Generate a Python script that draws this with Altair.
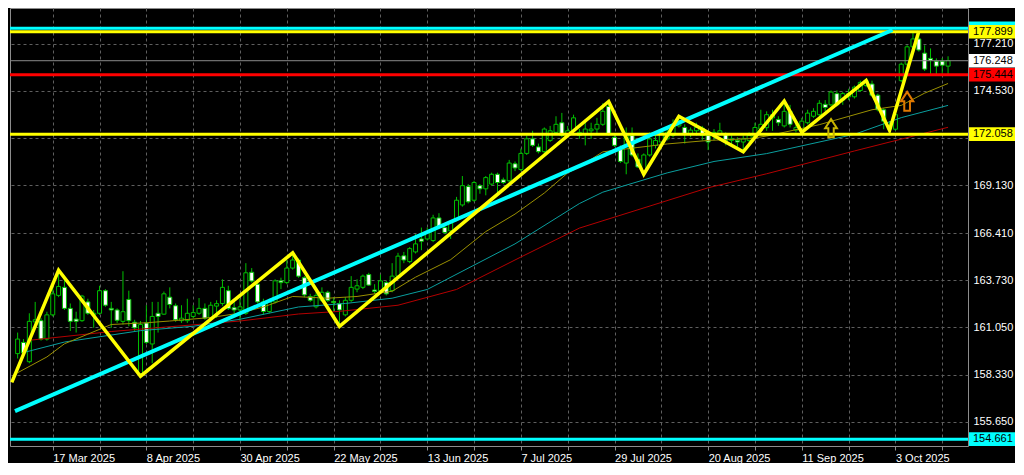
import altair as alt
import pandas as pd

# ---------------- data ----------------
OPEN = [159.54, 160.18, 159.08, 161.35, 161.42, 160.37, 161.75, 162.86, 163.32, 162.12,
        161.51, 161.42, 162.49, 161.75, 161.84, 163.13, 162.12, 162.03, 161.38, 162.63,
        161.33, 158.40, 161.29, 160.09, 161.84, 161.79, 162.76, 162.27, 161.42, 161.42,
        161.66, 161.84, 162.12, 161.57, 162.25, 162.40, 163.13, 162.16, 162.03, 161.84,
        164.18, 163.50, 162.49, 161.94, 162.49, 163.69, 163.59, 164.42, 164.88, 163.87,
        162.80, 162.21, 162.58, 163.04, 162.52, 162.40, 161.75, 162.58, 163.22, 163.32,
        164.05, 163.17, 163.13, 163.59, 163.13, 163.96, 165.12, 164.79, 165.34, 166.08,
        166.08, 165.99, 167.28, 166.73, 166.54, 167.19, 168.02, 169.07, 168.29, 169.12,
        168.94, 169.21, 169.77, 169.45, 169.40, 170.37, 170.04, 170.96, 171.79, 171.33,
        171.06, 171.70, 172.16, 172.71, 171.98, 172.25, 171.98, 172.07, 172.25, 172.35,
        172.62, 173.64, 171.88, 171.29, 170.41, 171.98, 170.63, 169.86, 170.87, 171.42,
        171.61, 171.79, 171.98, 172.53, 172.44, 172.10, 172.25, 172.40, 171.98, 171.98,
        172.10, 172.03, 171.70, 171.70, 171.61, 171.70, 171.88, 172.35, 172.43, 172.99,
        172.90, 172.53, 173.36, 172.29, 172.34, 172.71, 173.08, 173.17, 173.76, 173.73,
        174.37, 174.00, 174.19, 174.19, 174.55, 174.83, 174.92, 174.28, 173.45, 172.34,
        172.34, 175.11, 176.05, 177.04, 177.49, 176.68, 176.38, 176.22, 176.22, 175.94]
HIGH = [160.74, 160.37, 161.84, 162.49, 161.56, 161.93, 163.59, 164.30, 163.87, 162.40,
        161.93, 162.89, 162.67, 162.03, 163.41, 163.22, 162.49, 162.12, 164.24, 163.13,
        161.47, 161.40, 162.30, 162.49, 162.49, 163.08, 163.32, 162.40, 162.30, 162.67,
        162.30, 162.71, 162.40, 162.49, 162.58, 163.78, 163.41, 162.49, 162.67, 164.70,
        164.42, 163.78, 162.67, 162.67, 163.78, 163.87, 164.88, 165.29, 164.97, 163.96,
        162.95, 163.04, 163.32, 163.13, 162.76, 162.58, 162.76, 163.96, 163.78, 164.05,
        164.15, 163.50, 164.05, 163.69, 164.70, 165.29, 165.34, 165.62, 166.36, 166.73,
        166.73, 167.46, 167.55, 167.00, 167.09, 168.48, 169.67, 169.21, 169.40, 169.21,
        169.67, 169.86, 169.86, 169.58, 170.59, 170.50, 171.24, 171.98, 172.25, 171.52,
        172.44, 172.53, 173.08, 173.27, 172.53, 173.17, 172.35, 172.81, 172.71, 172.99,
        173.82, 173.95, 172.07, 171.42, 172.44, 172.44, 170.96, 170.96, 172.16, 171.98,
        172.35, 172.44, 172.90, 173.08, 172.62, 172.44, 172.71, 172.53, 172.07, 172.35,
        172.71, 172.16, 171.98, 171.88, 171.98, 172.16, 172.71, 173.45, 173.36, 173.45,
        173.08, 173.95, 173.73, 172.62, 172.99, 173.45, 173.54, 174.00, 174.00, 174.55,
        174.55, 174.46, 174.65, 174.83, 175.11, 175.14, 175.11, 174.37, 173.54, 172.80,
        173.26, 176.14, 177.13, 177.90, 177.93, 177.13, 176.95, 176.38, 176.40, 176.50]
LOW = [159.26, 159.36, 158.99, 161.01, 160.28, 160.28, 161.66, 162.76, 162.03, 160.83,
       160.74, 161.35, 161.75, 161.01, 161.75, 162.21, 161.01, 161.29, 161.20, 161.10,
       160.83, 158.16, 160.09, 158.99, 160.74, 161.75, 162.12, 161.35, 161.29, 161.29,
       161.56, 161.75, 161.47, 161.38, 161.57, 162.27, 162.03, 161.84, 161.38, 161.75,
       163.59, 162.40, 161.75, 161.84, 162.40, 163.22, 163.50, 164.33, 163.87, 162.76,
       162.49, 162.12, 162.49, 162.49, 161.94, 161.10, 161.66, 162.49, 163.04, 163.22,
       163.41, 162.95, 163.04, 162.86, 163.04, 163.87, 164.70, 164.70, 165.25, 165.44,
       165.99, 165.90, 166.64, 166.36, 166.08, 167.09, 167.92, 168.11, 168.20, 168.66,
       168.57, 169.12, 168.57, 169.21, 169.30, 169.95, 169.95, 170.87, 171.33, 170.96,
       170.87, 171.61, 172.07, 171.88, 171.88, 172.16, 171.79, 171.42, 171.79, 172.07,
       172.53, 171.98, 171.33, 170.41, 169.77, 170.78, 170.13, 169.77, 170.78, 171.24,
       171.42, 171.70, 171.88, 172.44, 171.52, 171.88, 171.98, 171.70, 171.15, 171.70,
       171.98, 171.42, 171.33, 171.33, 171.05, 171.61, 171.79, 172.25, 172.25, 172.25,
       172.53, 172.44, 172.44, 172.16, 172.16, 172.62, 172.99, 173.08, 173.36, 173.64,
       173.64, 173.73, 174.00, 174.09, 174.46, 174.74, 174.19, 173.36, 172.34, 172.25,
       172.25, 175.02, 175.96, 176.95, 176.77, 175.66, 175.38, 175.38, 175.38, 175.44]
CLOSE = [160.37, 159.58, 161.38, 161.47, 160.37, 161.75, 162.95, 163.37, 162.12, 161.38,
         161.38, 162.82, 161.84, 161.84, 163.13, 162.30, 162.03, 161.44, 161.93, 161.42,
         161.01, 161.20, 160.18, 161.66, 161.66, 162.95, 162.34, 161.47, 161.56, 161.84,
         161.88, 162.12, 161.56, 162.30, 162.39, 163.32, 162.12, 162.03, 162.21, 164.15,
         163.68, 162.49, 161.94, 162.49, 163.69, 163.59, 164.42, 164.88, 163.96, 162.89,
         162.58, 162.86, 163.04, 162.58, 162.45, 162.03, 162.58, 163.32, 163.41, 163.96,
         163.45, 163.08, 163.69, 162.95, 163.96, 165.10, 164.88, 165.53, 165.80, 165.95,
         166.45, 167.28, 166.73, 166.45, 167.00, 168.29, 169.12, 168.20, 169.30, 168.94,
         169.58, 169.77, 169.30, 169.30, 170.41, 170.13, 170.96, 171.79, 171.42, 171.06,
         172.35, 172.25, 172.62, 171.98, 172.25, 172.99, 172.16, 172.35, 172.35, 172.62,
         173.36, 172.07, 171.42, 170.50, 171.98, 170.87, 170.19, 170.87, 171.79, 171.70,
         172.16, 172.16, 172.62, 172.81, 172.07, 172.29, 172.44, 171.98, 171.61, 172.16,
         172.25, 171.70, 171.79, 171.61, 171.79, 171.98, 172.44, 172.62, 173.17, 173.17,
         172.71, 173.36, 172.62, 172.43, 172.80, 173.26, 173.36, 173.82, 173.58, 174.46,
         173.73, 174.37, 174.37, 174.74, 175.01, 175.11, 174.28, 173.45, 172.80, 172.53,
         173.17, 176.05, 177.04, 177.49, 176.86, 175.77, 176.27, 175.94, 175.99, 176.25]

# moving averages (bar index, price) read at intervals
MA_FAST_I = [0, 5, 8, 12, 16, 22, 26, 33, 38, 42, 47, 53, 58, 64, 68, 74, 80, 85, 90,
             94, 96, 100, 106, 111, 118, 125, 128, 137, 146, 151, 155, 159]
MA_FAST_P = [158.45, 159.35, 160.10, 160.65, 161.20, 161.30, 161.40, 161.60, 161.85, 162.20,
             162.80, 162.70, 162.80, 163.10, 163.90, 164.90, 166.50, 167.50, 168.70, 169.85,
             170.20, 171.05, 171.30, 171.50, 171.70, 171.80, 171.95, 172.60, 173.45, 173.70,
             174.40, 174.95]
MA_MID_I = [1, 8, 21, 30, 38, 48, 56, 64, 70, 85, 96, 100, 111, 119, 128, 143, 151, 159]
MA_MID_P = [159.60, 160.20, 160.85, 161.10, 161.50, 162.20, 162.40, 162.70, 163.20, 165.80,
            168.10, 168.75, 169.85, 170.50, 170.95, 172.05, 173.00, 173.70]
MA_SLOW_I = [2, 16, 38, 48, 55, 65, 75, 86, 96, 118, 128, 143, 159]
MA_SLOW_P = [160.30, 160.80, 161.40, 161.80, 161.95, 162.30, 163.20, 165.05, 166.70, 169.00,
             169.80, 171.10, 172.45]

# zigzag pivots and trend line
ZZ_I = [-1, 7, 21, 47, 55, 101, 107, 113, 124, 131, 134, 145, 149, 154]
ZZ_P = [157.90, 164.30, 158.25, 165.29, 161.10, 173.92, 169.77, 173.08, 171.05, 173.95,
        172.16, 175.12, 172.27, 177.93]
TREND_I = [-0.45, 149.5]
TREND_P = [156.26, 178.00]

# horizontal levels
LEVELS = [178.10, 177.899, 176.248, 175.444, 172.058, 154.661]

# arrows
ARROW_I = [139, 152]
ARROW_P = [172.40, 173.93]

# axes
TICK_INDEX = [6, 22, 38, 54, 70, 86, 102, 118, 134, 150]
TICK_LABELS = ["17 Mar 2025", "8 Apr 2025", "30 Apr 2025", "22 May 2025", "13 Jun 2025",
               "7 Jul 2025", "29 Jul 2025", "20 Aug 2025", "11 Sep 2025", "3 Oct 2025"]
GRID_INDEX = [6, 14, 22, 30, 38, 46, 54, 62, 70, 78, 86, 94, 102, 110, 118, 126, 134, 142, 150, 158]
PRICE_TICKS = [155.650, 158.330, 161.050, 163.730, 166.410, 169.130, 171.850, 174.530, 177.210]

# ---------------- styling / geometry ----------------
W, H = 958, 438
Y_MIN, Y_MAX = 154.27, 179.255
X_MIN, X_MAX = -0.45, 161.55
FONT = "Liberation Sans, Arial, sans-serif"
GREEN = "#00c000"
GRID = "#5f5f5f"
BOX_HALF = 6.8 * (Y_MAX - Y_MIN) / H

xs = alt.Scale(domain=[X_MIN, X_MAX], nice=False, zero=False)
ys = alt.Scale(domain=[Y_MIN, Y_MAX], nice=False, zero=False)

label_expr = "".join(f"datum.value == {i} ? '{t}' : " for i, t in zip(TICK_INDEX, TICK_LABELS)) + "''"
x_axis = alt.Axis(values=GRID_INDEX, labelExpr=label_expr, grid=True, gridColor=GRID,
                  gridDash=[3, 3], gridWidth=1, ticks=True, tickSize=4, tickColor="#8c8c8c",
                  labelAlign="left", labelColor="#ffffff", labelFont=FONT, labelFontSize=11,
                  labelPadding=2, labelOverlap=False, labelFlush=False, labelBound=False,
                  domain=False, title=None)
y_axis = alt.Axis(orient="right", values=PRICE_TICKS,
                  labelExpr="datum.value == 171.85 ? '' : format(datum.value, '.3f')",
                  grid=True, gridColor=GRID, gridDash=[3, 3], gridWidth=1, ticks=False,
                  tickSize=0, domain=False, labelColor="#ffffff", labelFont=FONT,
                  labelFontSize=11, labelPadding=5, labelAlign="left", labelBaseline="middle",
                  labelOverlap=False, labelFlush=False, title=None)


def X(field):
    return alt.X(f"{field}:Q", scale=xs, axis=x_axis)


def Y(field):
    return alt.Y(f"{field}:Q", scale=ys, axis=y_axis)


candles = pd.DataFrame({"i": list(range(len(OPEN))), "open": OPEN, "high": HIGH,
                        "low": LOW, "close": CLOSE})
base = alt.Chart(candles)
wicks = base.mark_rule(color=GREEN, strokeWidth=1).encode(x=X("i"), y=Y("low"), y2="high:Q")
bodies = base.mark_bar(size=4, stroke=GREEN, strokeWidth=1).encode(
    x=X("i"), y=Y("open"), y2="close:Q",
    fill=alt.condition("datum.close < datum.open", alt.value("#ffffff"), alt.value("#000000")))


def line(i_list, p_list, color, width):
    df = pd.DataFrame({"i": i_list, "p": p_list})
    return alt.Chart(df).mark_line(color=color, strokeWidth=width, clip=True).encode(
        x=X("i"), y=Y("p"))


ma_slow = line(MA_SLOW_I, MA_SLOW_P, "#b40000", 1)
ma_mid = line(MA_MID_I, MA_MID_P, "#0a9e9e", 1)
ma_fast = line(MA_FAST_I, MA_FAST_P, "#9a9000", 1)

level_style = [("#00ffff", 3, "#00ffff", False),
               ("#ffff00", 3, "#ffff00", True),
               ("#8a8a8a", 1, "#ffffff", True),
               ("#ff0000", 3, "#ff0000", True),
               ("#ffff00", 3, "#ffff00", True),
               ("#00ffff", 3, "#00ffff", True)]

hlines = []
boxes = []
for lv, (lc, lw, bc, show_text) in zip(LEVELS, level_style):
    d = pd.DataFrame({"p": [lv], "lab": [f"{lv:.3f}"]})
    hlines.append(alt.Chart(d).mark_rule(color=lc, strokeWidth=lw).encode(y=Y("p")))
    bx = alt.Chart(d).transform_calculate(top=f"datum.p + {BOX_HALF}",
                                          bot=f"datum.p - {BOX_HALF}").mark_rect(color=bc).encode(
        x=alt.value(W + 1), x2=alt.value(W + 47), y=Y("top"), y2="bot:Q")
    boxes.append(bx)
    if show_text:
        boxes.append(alt.Chart(d).mark_text(align="left", baseline="middle", font=FONT,
                                            fontSize=11, color="#000000").encode(
            x=alt.value(W + 5), y=Y("p"), text="lab:N"))

trend = line(TREND_I, TREND_P, "#00ffff", 4)
zigzag = line(ZZ_I, ZZ_P, "#ffff00", 3.5)

ARROW_SHAPE = "M -0.3 1 L -0.3 0 L -0.65 0 L 0 -1 L 0.65 0 L 0.3 0 L 0.3 1 Z"
arrow_df = pd.DataFrame({"i": ARROW_I, "p": ARROW_P})
arrow1 = alt.Chart(arrow_df.iloc[[0]]).mark_point(shape=ARROW_SHAPE, size=324, filled=False,
                                                  color="#c8b400", strokeWidth=2, opacity=1).encode(
    x=X("i"), y=Y("p"))
arrow2 = alt.Chart(arrow_df.iloc[[1]]).mark_point(shape=ARROW_SHAPE, size=361, filled=False,
                                                  color="#e07800", strokeWidth=2, opacity=1).encode(
    x=X("i"), y=Y("p"))

chart = alt.layer(
    wicks, bodies, ma_slow, ma_mid, ma_fast, *hlines, trend, zigzag, arrow1, arrow2, *boxes
).properties(
    width=W, height=H, padding=0, background="#000000"
).configure_view(
    stroke="#8c8c8c", strokeWidth=1
)

chart.save("out.html", embed_options={"renderer": "svg", "actions": False})
